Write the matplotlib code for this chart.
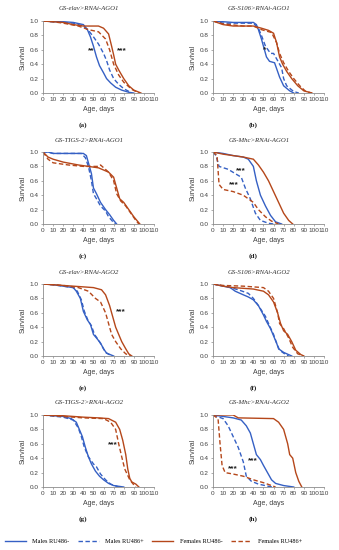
import matplotlib
matplotlib.use("Agg")
import matplotlib.pyplot as plt
from matplotlib.lines import Line2D

# ---------------- data ----------------
titles = ["GS-elav>RNAi-AGO1", "GS-S106>RNAi-AGO1", "GS-TIGS-2>RNAi-AGO1", "GS-Mhc>RNAi-AGO1",
          "GS-elav>RNAi-AGO2", "GS-S106>RNAi-AGO2", "GS-TIGS-2>RNAi-AGO2", "GS-Mhc>RNAi-AGO2"]
panel_letters = ["(a)", "(b)", "(c)", "(d)", "(e)", "(f)", "(g)", "(h)"]
series_names = ["Males RU486-", "Males RU486+", "Females RU486-", "Females RU486+"]
x_ticks = [0, 10, 20, 30, 40, 50, 60, 70, 80, 90, 100, 110]
y_ticks = [0.0, 0.2, 0.4, 0.6, 0.8, 1.0]

# (a) GS-elav>RNAi-AGO1
a_age_mm = [0, 10, 20, 30, 40, 44, 47, 50, 53, 56, 60, 63, 67, 72, 78, 85, 90]
a_sv_mm = [1, 0.99, 0.99, 0.98, 0.95, 0.88, 0.78, 0.65, 0.5, 0.38, 0.28, 0.2, 0.14, 0.08, 0.04, 0.01, 0]
a_age_mp = [0, 10, 20, 30, 40, 45, 50, 55, 60, 63, 66, 70, 75, 80, 88]
a_sv_mp = [1, 0.99, 0.98, 0.97, 0.93, 0.87, 0.78, 0.68, 0.55, 0.45, 0.32, 0.2, 0.12, 0.06, 0]
a_age_fm = [0, 10, 20, 30, 40, 55, 60, 65, 68, 70, 72, 75, 80, 85, 90, 97]
a_sv_fm = [1, 0.99, 0.98, 0.95, 0.93, 0.93, 0.9, 0.82, 0.65, 0.53, 0.4, 0.32, 0.2, 0.1, 0.04, 0]
a_age_fp = [0, 10, 20, 35, 45, 55, 62, 66, 70, 75, 80, 88, 95]
a_sv_fp = [1, 0.99, 0.97, 0.93, 0.88, 0.85, 0.75, 0.6, 0.4, 0.25, 0.15, 0.05, 0]

# (b) GS-S106>RNAi-AGO1
b_age_mm = [0, 20, 40, 43, 45, 48, 53, 56, 61, 66, 70, 76, 80]
b_sv_mm = [1, 0.98, 0.98, 0.95, 0.88, 0.75, 0.5, 0.44, 0.42, 0.22, 0.1, 0.03, 0]
b_age_mp = [0, 10, 40, 45, 48, 52, 57, 60, 64, 68, 70, 73, 80, 85]
b_sv_mp = [1, 0.97, 0.97, 0.9, 0.8, 0.65, 0.55, 0.55, 0.45, 0.35, 0.2, 0.1, 0.02, 0]
b_age_fm = [0, 10, 20, 40, 48, 55, 60, 63, 66, 69, 73, 78, 84, 90, 98]
b_sv_fm = [1, 0.95, 0.93, 0.93, 0.9, 0.87, 0.83, 0.7, 0.5, 0.4, 0.3, 0.2, 0.1, 0.03, 0]
b_age_fp = [0, 10, 30, 40, 48, 58, 63, 66, 70, 75, 80, 86, 92, 98]
b_sv_fp = [1, 0.96, 0.93, 0.93, 0.88, 0.84, 0.7, 0.55, 0.42, 0.3, 0.2, 0.1, 0.02, 0]

# (c) GS-TIGS-2>RNAi-AGO1
c_age_mm = [0, 5, 10, 40, 43, 45, 48, 50, 53, 57, 62, 66, 70, 73]
c_sv_mm = [1, 1, 0.98, 0.98, 0.95, 0.85, 0.7, 0.5, 0.42, 0.3, 0.2, 0.13, 0.05, 0]
c_age_mp = [0, 5, 10, 38, 42, 45, 48, 50, 53, 57, 62, 65, 70, 72]
c_sv_mp = [1, 1, 0.98, 0.98, 0.92, 0.8, 0.6, 0.42, 0.35, 0.25, 0.18, 0.1, 0.02, 0]
c_age_fm = [0, 5, 10, 20, 35, 45, 55, 65, 70, 73, 76, 80, 85, 90, 96]
c_sv_fm = [1, 0.93, 0.9, 0.86, 0.82, 0.8, 0.78, 0.72, 0.65, 0.5, 0.35, 0.3, 0.2, 0.1, 0]
c_age_fp = [0, 5, 10, 25, 40, 55, 57, 65, 70, 73, 77, 82, 87, 92, 95]
c_sv_fp = [1, 0.9, 0.85, 0.82, 0.8, 0.8, 0.82, 0.72, 0.6, 0.42, 0.32, 0.25, 0.15, 0.05, 0]

# (d) GS-Mhc>RNAi-AGO1
d_age_mm = [0, 10, 20, 30, 35, 40, 43, 47, 52, 57, 62, 68]
d_sv_mm = [1, 0.98, 0.95, 0.93, 0.9, 0.8, 0.6, 0.4, 0.25, 0.12, 0.03, 0]
d_age_mp = [0, 3, 6, 15, 22, 28, 32, 37, 42, 47, 55, 60]
d_sv_mp = [1, 0.95, 0.8, 0.76, 0.7, 0.65, 0.5, 0.35, 0.15, 0.05, 0.01, 0]
d_age_fm = [0, 10, 20, 30, 40, 45, 50, 55, 60, 65, 70, 75, 79]
d_sv_fm = [1, 0.97, 0.95, 0.93, 0.9, 0.82, 0.72, 0.6, 0.45, 0.3, 0.15, 0.05, 0]
d_age_fp = [0, 4, 6, 10, 20, 30, 40, 45, 52, 58, 65]
d_sv_fp = [1, 0.95, 0.55, 0.48, 0.45, 0.4, 0.3, 0.2, 0.1, 0.04, 0]

# (e) GS-elav>RNAi-AGO2
e_age_mm = [0, 10, 20, 30, 33, 37, 40, 44, 47, 50, 53, 57, 60, 63, 70]
e_sv_mm = [1, 0.99, 0.97, 0.95, 0.9, 0.8, 0.62, 0.5, 0.44, 0.3, 0.25, 0.18, 0.1, 0.04, 0]
e_age_mp = [0, 10, 20, 30, 34, 38, 41, 45, 48, 51, 55, 58, 62, 68]
e_sv_mp = [1, 0.99, 0.97, 0.95, 0.9, 0.78, 0.62, 0.48, 0.42, 0.3, 0.22, 0.15, 0.05, 0]
e_age_fm = [0, 20, 40, 50, 58, 62, 66, 69, 72, 75, 78, 82, 85, 88]
e_sv_fm = [1, 0.98, 0.96, 0.95, 0.92, 0.85, 0.7, 0.55, 0.4, 0.3, 0.2, 0.1, 0.03, 0]
e_age_fp = [0, 20, 35, 45, 52, 57, 62, 65, 68, 72, 77, 82, 87]
e_sv_fp = [1, 0.98, 0.95, 0.9, 0.8, 0.75, 0.6, 0.45, 0.3, 0.2, 0.1, 0.03, 0]

# (f) GS-S106>RNAi-AGO2
f_age_mm = [0, 10, 17, 22, 30, 35, 40, 45, 50, 53, 57, 60, 63, 65, 70, 78]
f_sv_mm = [1, 0.97, 0.95, 0.9, 0.85, 0.82, 0.78, 0.7, 0.57, 0.48, 0.38, 0.28, 0.18, 0.1, 0.05, 0]
f_age_mp = [0, 15, 25, 35, 40, 45, 52, 56, 60, 63, 66, 72, 75]
f_sv_mp = [1, 0.96, 0.92, 0.87, 0.8, 0.7, 0.55, 0.42, 0.3, 0.18, 0.08, 0.02, 0]
f_age_fm = [0, 10, 20, 40, 50, 55, 60, 64, 67, 70, 74, 78, 82, 87, 90]
f_sv_fm = [1, 0.97, 0.95, 0.93, 0.9, 0.85, 0.75, 0.6, 0.45, 0.35, 0.3, 0.2, 0.08, 0.02, 0]
f_age_fp = [0, 10, 30, 50, 55, 60, 64, 66, 70, 75, 79, 84, 90]
f_sv_fp = [1, 0.98, 0.97, 0.95, 0.9, 0.8, 0.6, 0.45, 0.38, 0.25, 0.12, 0.03, 0]

# (g) GS-TIGS-2>RNAi-AGO2
g_age_mm = [0, 20, 28, 33, 36, 39, 42, 45, 48, 52, 56, 60, 65, 70, 80]
g_sv_mm = [1, 0.98, 0.95, 0.9, 0.8, 0.7, 0.55, 0.42, 0.32, 0.22, 0.15, 0.1, 0.05, 0.02, 0]
g_age_mp = [0, 20, 30, 35, 38, 41, 45, 50, 53, 57, 62, 67, 75]
g_sv_mp = [1, 0.97, 0.93, 0.82, 0.7, 0.55, 0.42, 0.32, 0.28, 0.18, 0.1, 0.04, 0]
g_age_fm = [0, 20, 40, 55, 65, 72, 76, 79, 82, 84, 86, 88, 92, 95]
g_sv_fm = [1, 0.99, 0.97, 0.96, 0.95, 0.9, 0.8, 0.65, 0.45, 0.25, 0.12, 0.07, 0.04, 0]
g_age_fp = [0, 20, 40, 60, 67, 72, 75, 78, 81, 86, 90, 92]
g_sv_fp = [1, 0.98, 0.96, 0.95, 0.9, 0.8, 0.6, 0.42, 0.25, 0.1, 0.03, 0]

# (h) GS-Mhc>RNAi-AGO2
h_age_mm = [0, 10, 20, 28, 33, 37, 40, 43, 47, 50, 54, 58, 62, 70, 80]
h_sv_mm = [1, 0.98, 0.96, 0.93, 0.85, 0.75, 0.6, 0.45, 0.38, 0.3, 0.2, 0.1, 0.05, 0.02, 0]
h_age_mp = [0, 10, 15, 20, 25, 30, 33, 38, 45, 55, 60]
h_sv_mp = [1, 0.95, 0.85, 0.7, 0.55, 0.35, 0.15, 0.08, 0.04, 0.01, 0]
h_age_fm = [0, 20, 25, 60, 65, 70, 74, 76, 79, 82, 85, 88]
h_sv_fm = [1, 1, 0.96, 0.95, 0.9, 0.8, 0.6, 0.45, 0.4, 0.2, 0.08, 0]
h_age_fp = [0, 5, 7, 9, 12, 20, 30, 40, 50, 58, 62]
h_sv_fp = [1, 0.95, 0.6, 0.3, 0.2, 0.18, 0.15, 0.1, 0.06, 0.02, 0]

# significance marks: (panel index, text, age, survival)
sig_panel = [0, 0, 1, 3, 3, 4, 6, 7, 7]
sig_text = ["**", "***", "*", "***", "***", "***", "***", "***", "***"]
sig_age = [48, 78, 51, 28, 21, 77, 69, 39, 20]
sig_surv = [0.59, 0.59, 0.6, 0.74, 0.54, 0.61, 0.59, 0.36, 0.26]

# ---------------- drawing ----------------
panel_data = [
    [(a_age_mm, a_sv_mm), (a_age_mp, a_sv_mp), (a_age_fm, a_sv_fm), (a_age_fp, a_sv_fp)],
    [(b_age_mm, b_sv_mm), (b_age_mp, b_sv_mp), (b_age_fm, b_sv_fm), (b_age_fp, b_sv_fp)],
    [(c_age_mm, c_sv_mm), (c_age_mp, c_sv_mp), (c_age_fm, c_sv_fm), (c_age_fp, c_sv_fp)],
    [(d_age_mm, d_sv_mm), (d_age_mp, d_sv_mp), (d_age_fm, d_sv_fm), (d_age_fp, d_sv_fp)],
    [(e_age_mm, e_sv_mm), (e_age_mp, e_sv_mp), (e_age_fm, e_sv_fm), (e_age_fp, e_sv_fp)],
    [(f_age_mm, f_sv_mm), (f_age_mp, f_sv_mp), (f_age_fm, f_sv_fm), (f_age_fp, f_sv_fp)],
    [(g_age_mm, g_sv_mm), (g_age_mp, g_sv_mp), (g_age_fm, g_sv_fm), (g_age_fp, g_sv_fp)],
    [(h_age_mm, h_sv_mm), (h_age_mp, h_sv_mp), (h_age_fm, h_sv_fm), (h_age_fp, h_sv_fp)],
]

BLUE = "#3560c4"
BROWN = "#b5471a"
DASH = (0, (3.2, 1.8))
styles = [(BLUE, "-"), (BLUE, DASH), (BROWN, "-"), (BROWN, DASH)]
AXCOL = "#8c8c8c"
SANS = "Liberation Sans"
SERIF = "Liberation Serif"

W, H = 339, 550
fig = plt.figure(figsize=(W / 100, H / 100), dpi=100)

col_left = [43, 213]
row_top = [21, 152, 284, 415]
ax_w, ax_h = 111, 72

for i in range(8):
    r, c = divmod(i, 2)
    lpx, tpx = col_left[c], row_top[r]
    ax = fig.add_axes([lpx / W, 1 - (tpx + ax_h) / H, ax_w / W, ax_h / H])
    for (ages, sv), (col, ls) in zip(panel_data[i], styles):
        ax.plot(ages, sv, color=col, linestyle=ls, lw=1.0, solid_joinstyle="miter")
    ax.set_xlim(0, 110)
    ax.set_ylim(0, 1.0)
    ax.set_xticks(x_ticks)
    ax.set_yticks(y_ticks)
    ax.set_xticklabels([str(t) for t in x_ticks], fontsize=4.6, family=SANS, color="#404040")
    ax.set_yticklabels([f"{t:.1f}" for t in y_ticks], fontsize=4.6, family=SANS, color="#404040")
    for s in ("top", "right"):
        ax.spines[s].set_visible(False)
    for s in ("left", "bottom"):
        ax.spines[s].set_color(AXCOL)
        ax.spines[s].set_linewidth(0.6)
    ax.tick_params(length=1.6, width=0.5, color=AXCOL, pad=1.5)
    ax.set_xlabel("Age, days", fontsize=5.0, family=SANS, color="#404040", labelpad=2.5)
    ax.set_ylabel("Survival", fontsize=5.0, family=SANS, color="#404040", labelpad=2.5)
    ax.patch.set_alpha(0)
    # title and panel letter
    fig.text((lpx + 46) / W, 1 - (tpx - 12) / H, titles[i], ha="center", va="center",
             fontsize=4.9, family=SERIF, style="italic", color="#303030")
    fig.text((lpx + 40) / W, 1 - (tpx + ax_h + 32) / H, panel_letters[i], ha="center", va="center",
             fontsize=5.2, family=SERIF, weight="bold", color="#202020")
    for p, t, xa, ya in zip(sig_panel, sig_text, sig_age, sig_surv):
        if p == i:
            ax.text(xa, ya, t, ha="center", va="center", fontsize=6.0, weight="bold",
                    family=SANS, color="#202020")

handles = [Line2D([], [], color=col, linestyle=ls, lw=1.0) for col, ls in styles]
fig.legend(handles, series_names, loc="center left", bbox_to_anchor=(5 / W, 1 - 541 / H),
           ncol=4, frameon=False, prop={"family": SERIF, "size": 4.5},
           handlelength=3.3, handletextpad=1.1, columnspacing=1.3, borderpad=0, borderaxespad=0)

fig.savefig("out.png", dpi=100)
